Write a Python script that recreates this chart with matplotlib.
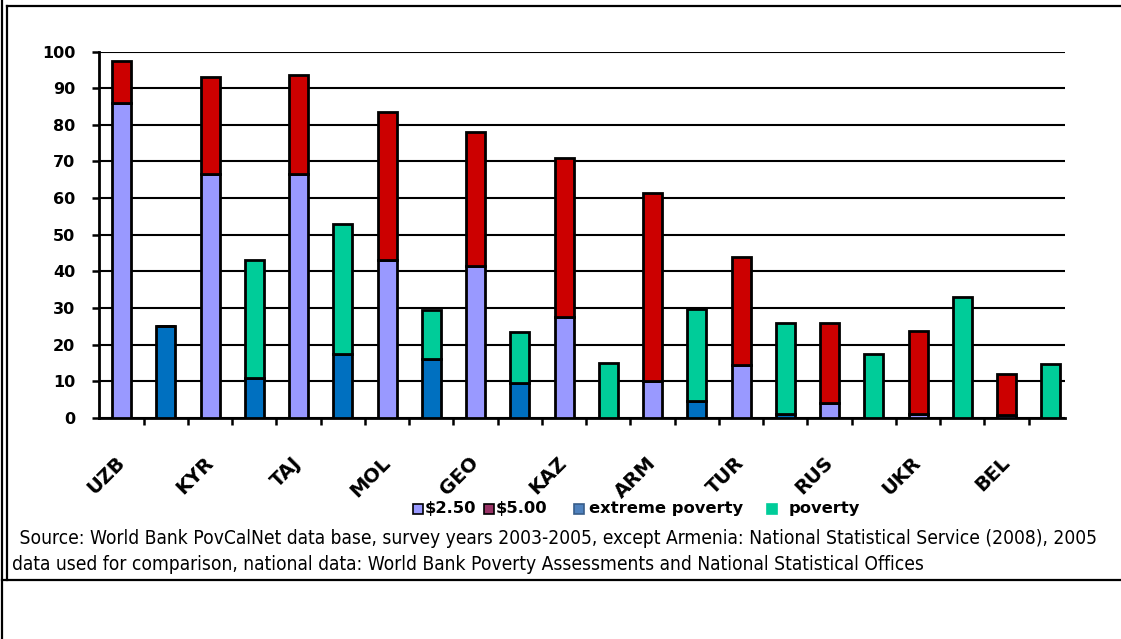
import matplotlib
matplotlib.use("Agg")
import matplotlib.pyplot as plt
from matplotlib.patches import Rectangle
from matplotlib.lines import Line2D
from matplotlib import font_manager
import numpy as np

# ---------------- data ----------------
countries = ["UZB", "KYR", "TAJ", "MOL", "GEO", "KAZ", "ARM", "TUR", "RUS", "UKR", "BEL"]
# international lines (stacked): $2.50 part and total at $5.00
intl_250 = [86, 66.5, 66.5, 43, 41.5, 27.5, 10, 14.5, 4, 1.2, 0.8]
intl_500_total = [97.5, 93, 93.5, 83.5, 78, 71, 61.5, 44, 26, 23.8, 12]
# national lines (stacked): extreme poverty part and total poverty
nat_extreme = [25, 11, 17.5, 16, 9.5, 0, 4.7, 1.2, 0, 0, 0]
nat_total = [25, 43, 53, 29.5, 23.5, 15, 29.8, 25.8, 17.5, 33, 14.6]

legend_labels = ["$2.50", "$5.00", "extreme poverty", "poverty"]
yticks = [0, 10, 20, 30, 40, 50, 60, 70, 80, 90, 100]
source_lines = [
    " Source: World Bank PovCalNet data base, survey years 2003-2005, except Armenia: National Statistical Service (2008), 2005",
    "data used for comparison, national data: World Bank Poverty Assessments and National Statistical Offices",
]

# ---------------- style ----------------
C_LAV = "#9999FF"
C_RED = "#CC0000"
C_BLUE = "#0070C0"
C_GREEN = "#00CC99"
LEG_COLORS = ["#9999FF", "#993366", "#4F81BD", "#00CC99"]
LEG_EDGES = ["black", "black", "#385D8A", "#00CC99"]

W, H = 1121, 639
fig = plt.figure(figsize=(W / 100, H / 100), dpi=100)
fig.patch.set_facecolor("white")

def fx(px):
    return px / W

def fy(py):
    return 1 - py / H

ax_left, ax_right, ax_top, ax_bot = 99, 1065, 51.5, 418
ax = fig.add_axes([fx(ax_left), fy(ax_bot), fx(ax_right - ax_left), (ax_bot - ax_top) / H])

n = len(countries)
x_intl = np.arange(n) * 2
x_nat = np.arange(n) * 2 + 1
bw = 0.43
ekw = dict(edgecolor="black", linewidth=2.0, zorder=3)

intl_250 = np.array(intl_250)
intl_500_total = np.array(intl_500_total)
nat_extreme = np.array(nat_extreme)
nat_total = np.array(nat_total)

ax.bar(x_intl, intl_250, bw, color=C_LAV, **ekw)
ax.bar(x_intl, intl_500_total - intl_250, bw, bottom=intl_250, color=C_RED, **ekw)
ax.bar(x_nat, nat_extreme, bw, color=C_BLUE, **ekw)
ax.bar(x_nat, nat_total - nat_extreme, bw, bottom=nat_extreme, color=C_GREEN, **ekw)

ax.set_ylim(0, 100)
ax.set_xlim(-0.51, 21.32)
ax.set_yticks(yticks)
ax.set_yticklabels([str(v) for v in yticks], fontsize=11.5, fontweight="bold",
                   family="DejaVu Sans")
ax.yaxis.grid(True, color="black", linewidth=1.5, zorder=0)
ax.set_axisbelow(True)

ax.set_xticks(x_intl)
ax.set_xticklabels(countries, rotation=45, ha="right", va="center",
                   rotation_mode="anchor", fontsize=14, fontweight="bold",
                   family="DejaVu Sans")
ax.set_xticks(np.arange(2 * n - 1) + 0.5, minor=True)
ax.tick_params(axis="x", which="major", length=0, pad=30)
ax.tick_params(axis="x", which="minor", length=5, width=1.8, color="black", direction="out")
ax.tick_params(axis="y", length=5, width=1.8, color="black", pad=12)

for s in ["top", "right"]:
    ax.spines[s].set_visible(False)
for s in ["left", "bottom"]:
    ax.spines[s].set_linewidth(2)
    ax.spines[s].set_color("black")

# ---------------- legend (manual) ----------------
leg_y = 509
sq = 10
items = [(413, 425), (484, 496), (574, 589), (767, 789)]
for (sxp, txp), lab, fc, ec in zip(items, legend_labels, LEG_COLORS, LEG_EDGES):
    fig.patches.append(Rectangle((fx(sxp), fy(leg_y + sq / 2)), fx(sq), sq / H,
                                 facecolor=fc, edgecolor=ec, linewidth=1.2,
                                 transform=fig.transFigure, figure=fig))
    fig.text(fx(txp), fy(leg_y), lab, fontsize=11.8, fontweight="bold",
             family="DejaVu Sans", va="center", ha="left")

# ---------------- source text ----------------
has_cond = any(f.name == "DejaVu Sans" and str(f.stretch).lower() in ("condensed", "semi-condensed", "500")
               for f in font_manager.fontManager.ttflist)
if has_cond:
    src_kw = dict(family="DejaVu Sans", fontstretch="condensed")
else:
    src_kw = dict(family="Liberation Sans")
t1 = fig.text(fx(14), fy(539), source_lines[0], fontsize=12, va="center", ha="left", **src_kw)
fig.canvas.draw()
r = fig.canvas.get_renderer()
wpx = t1.get_window_extent(r).width
target = 1100 - 14
fs = 12 * target / wpx
t1.set_fontsize(fs)
fig.text(fx(12), fy(564), source_lines[1], fontsize=fs, va="center", ha="left", **src_kw)

# ---------------- frame lines ----------------
lw = 1.6
def hline(y, x0, x1):
    fig.add_artist(Line2D([fx(x0), fx(x1)], [fy(y), fy(y)], color="black", linewidth=lw,
                          transform=fig.transFigure))
def vline(x, y0, y1):
    fig.add_artist(Line2D([fx(x), fx(x)], [fy(y0), fy(y1)], color="black", linewidth=lw,
                          transform=fig.transFigure))

vline(2, 0, H)
vline(7, 6, 580)
hline(6, 7, W)
hline(580, 2, W)

fig.savefig("out.png", dpi=100)
